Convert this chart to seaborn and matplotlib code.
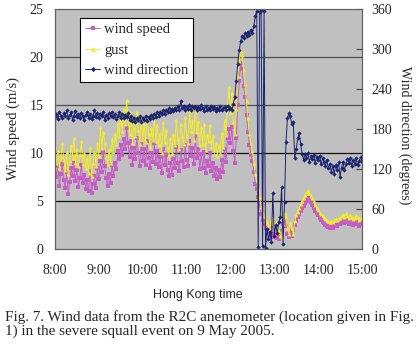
import numpy as np
import matplotlib
matplotlib.use("Agg")
import matplotlib.pyplot as plt
import seaborn as sns

# minutes after 08:00, one reading every 2 minutes up to 15:00
minutes = np.arange(0, 421, 2)
hours = 8 + minutes / 60

# wind speed (m/s)
wind_speed = [
    9.0, 7.5, 8.6, 6.6, 7.8, 8.9, 7.2, 6.4, 8.0, 5.7,
    7.0, 8.4, 7.6, 9.0, 7.1, 8.2, 6.5, 7.4, 8.8, 6.9,
    7.7, 6.3, 7.2, 6.0, 8.1, 5.8, 6.8, 7.6, 6.4, 8.4,
    7.3, 9.2, 8.0, 10.1, 8.6, 7.4, 6.6, 7.8, 6.9, 8.7,
    7.6, 9.0, 8.3, 10.2, 9.4, 10.8, 9.8, 11.5, 10.4, 12.6,
    11.0, 9.6, 11.3, 8.8, 10.5, 9.4, 11.6, 10.0, 8.6, 10.9,
    9.2, 10.4, 8.7, 11.2, 9.5, 8.4, 10.0, 9.1, 11.0, 8.9,
    10.2, 8.5, 9.6, 7.9, 10.4, 8.8, 9.8, 8.2, 7.6, 9.0,
    7.7, 9.4, 8.4, 10.6, 9.0, 8.1, 10.3, 9.2, 8.5, 10.8,
    9.3, 8.6, 11.2, 9.7, 10.5, 8.9, 11.8, 9.5, 10.4, 8.3,
    9.9, 8.4, 10.1, 7.9, 9.2, 8.6, 10.0, 8.1, 9.0, 7.6,
    8.4, 7.3, 8.2, 7.5, 9.3, 8.0, 10.4, 9.1, 11.6, 12.5,
    11.0, 12.7, 10.2, 9.0, 11.6, 15.0, 17.5, 19.4, 18.8, 17.0,
    15.8, 14.0, 12.2, 10.8, 9.8, 9.2, 8.0, 6.8, 6.2, 5.4,
    4.6, 3.6, 3.0, 2.6, 2.2, 2.0, 1.7, 1.4, 2.2, 1.6,
    1.2, 1.5, 1.1, 1.0, 1.3, 1.9, 2.6, 3.0, 2.4, 1.6,
    1.3, 1.9, 1.4, 2.0, 2.5, 2.9, 3.3, 3.6, 4.0, 4.3,
    4.5, 4.8, 5.1, 5.3, 5.0, 4.9, 4.6, 4.3, 4.0, 3.7,
    3.5, 3.2, 3.0, 2.8, 2.7, 2.5, 2.4, 2.3, 2.2, 2.3,
    2.2, 2.4, 2.5, 2.4, 2.6, 2.6, 2.8, 2.9, 2.7, 3.0,
    2.8, 2.6, 2.8, 2.7, 2.5, 2.6, 2.8, 2.6, 2.4, 2.6,
    2.7,
]

# gust (m/s)
gust = [
    10.6, 9.0, 10.2, 8.4, 9.6, 11.0, 9.3, 8.2, 10.1, 7.8,
    9.2, 10.8, 9.5, 11.6, 9.0, 10.4, 8.6, 9.8, 11.2, 8.9,
    10.0, 8.4, 9.5, 7.9, 10.6, 7.6, 9.0, 10.1, 8.6, 11.0,
    9.7, 12.7, 10.5, 12.2, 11.0, 9.6, 8.9, 10.4, 9.0, 11.5,
    10.1, 12.0, 10.9, 13.1, 11.8, 14.0, 12.3, 14.6, 13.0, 15.5,
    13.4, 12.0, 14.2, 11.0, 13.2, 11.8, 14.3, 12.4, 10.9, 13.6,
    11.5, 13.0, 11.1, 14.0, 12.0, 10.6, 12.6, 11.4, 13.8, 11.2,
    12.9, 10.8, 12.1, 10.0, 13.2, 11.1, 12.4, 10.5, 9.8, 11.6,
    10.0, 12.0, 10.8, 13.4, 11.5, 10.4, 13.0, 11.8, 10.9, 13.7,
    11.9, 11.0, 14.4, 12.3, 13.4, 11.4, 15.0, 12.2, 13.3, 10.8,
    12.7, 10.9, 13.0, 10.3, 11.9, 11.2, 12.9, 10.6, 11.8, 9.9,
    11.0, 9.7, 10.8, 10.0, 12.1, 10.6, 13.4, 11.9, 15.0, 16.9,
    14.2, 16.2, 13.3, 12.0, 14.6, 18.0, 19.6, 20.6, 20.2, 18.6,
    17.2, 15.4, 13.6, 12.0, 11.0, 10.2, 9.0, 7.8, 7.1, 6.3,
    5.4, 4.4, 3.8, 3.4, 3.0, 2.8, 2.5, 2.2, 3.0, 3.3,
    2.8, 2.5, 2.3, 1.9, 1.4, 1.2, 2.6, 3.7, 3.3, 2.2,
    1.6, 2.8, 2.2, 1.6, 2.9, 3.5, 3.9, 4.3, 4.7, 5.0,
    5.3, 5.6, 5.9, 6.1, 5.8, 5.6, 5.3, 5.0, 4.6, 4.3,
    4.1, 3.8, 3.6, 3.5, 3.3, 3.1, 3.0, 2.9, 2.8, 2.9,
    2.8, 3.0, 3.1, 3.0, 3.2, 3.2, 3.4, 3.6, 3.3, 3.7,
    3.4, 3.2, 3.5, 3.3, 3.1, 3.2, 3.5, 3.3, 3.0, 3.2,
    3.3,
]

# wind direction (degrees)
wind_dir = [
    198, 203, 195, 206, 200, 197, 204, 199, 208, 196,
    201, 205, 194, 200, 207, 198, 202, 196, 204, 199,
    193, 201, 206, 197, 203, 195, 200, 208, 198, 204,
    196, 203, 199, 205, 194, 201, 197, 204, 200, 206,
    198, 202, 195, 199, 205, 197, 203, 196, 201, 198,
    204, 194, 199, 192, 197, 190, 196, 193, 199, 191,
    197, 194, 200, 192, 198, 195, 201, 196, 203, 198,
    205, 200, 206, 202, 208, 203, 209, 205, 211, 206,
    210, 207, 212, 208, 214, 209, 222, 211, 215, 208,
    213, 210, 216, 209, 214, 211, 215, 208, 213, 210,
    216, 211, 207, 214, 209, 212, 208, 215, 210, 213,
    207, 212, 209, 214, 208, 211, 213, 209, 215, 210,
    212, 208, 218, 228, 252, 278, 298, 312, 320, 316,
    324, 319, 326, 321, 329, 324, 334, 350, 357, 3,
    356, 359, 4, 357, 2, 30, 15, 26, 10, 84,
    20, 36, 24, 40, 48, 93, 8, 70, 160, 196,
    204, 199, 187, 190, 136, 150, 166, 174, 158, 143,
    134, 142, 137, 144, 131, 139, 135, 141, 129, 138,
    133, 140, 127, 136, 131, 125, 133, 121, 128, 116,
    124, 113, 126, 119, 130, 108, 122, 131, 118, 127,
    135, 129, 137, 124, 133, 128, 136, 126, 132, 138,
    130,
]

assert len(wind_speed) == len(gust) == len(wind_dir) == len(minutes)

tick_hours = [8, 9, 10, 11, 12, 13, 14, 15]
tick_labels = ['8:00', '9:00', '10:00', '11:00', '12:00', '13:00', '14:00', '15:00']

sns.set_style("white")
plt.rcParams['font.family'] = ['Liberation Serif', 'DejaVu Serif']

fig = plt.figure(figsize=(4.19, 3.54), dpi=100)
ax = fig.add_axes([55 / 419, 1 - 249 / 354, 307 / 419, 240 / 354])
ax.set_facecolor('#c0c0c0')

# horizontal grid lines (two darker, two lighter as in the scan)
for lvl, col in [(5, '#101010'), (10, '#101010'), (15, '#505050'), (20, '#505050')]:
    ax.axhline(lvl, color=col, lw=0.9, zorder=0.5)

sns.lineplot(x=hours, y=wind_speed, ax=ax, estimator=None, sort=False,
             color='#c45ec4', lw=0.7, marker='s', markersize=2.6,
             markeredgewidth=0, label='wind speed', legend=False)
sns.lineplot(x=hours, y=gust, ax=ax, estimator=None, sort=False,
             color='#f2ea2e', lw=0.7, marker='^', markersize=2.8,
             markeredgewidth=0, label='gust', legend=False)

ax2 = ax.twinx()
sns.lineplot(x=hours, y=wind_dir, ax=ax2, estimator=None, sort=False,
             color='#1c2470', lw=0.7, marker='D', markersize=2.2,
             markeredgewidth=0, label='wind direction', legend=False)

ax.set_xlim(8, 15)
ax.set_ylim(0, 25)
ax2.set_ylim(0, 360)
ax.set_xticks(tick_hours)
ax.set_xticklabels(tick_labels)
ax.set_yticks([0, 5, 10, 15, 20, 25])
ax2.set_yticks([0, 60, 120, 180, 240, 300, 360])

ax.tick_params(axis='x', direction='in', length=3, pad=11, labelsize=10, color='#404040')
ax.tick_params(axis='y', direction='in', length=0, pad=8.5, labelsize=10)
ax2.tick_params(axis='y', direction='in', length=4, pad=7, labelsize=10, color='#404040')

for a in (ax, ax2):
    for s in a.spines.values():
        s.set_color('#606060')
        s.set_linewidth(0.8)

ax.set_xlabel('')
ax.set_ylabel('Wind speed (m/s)', fontsize=10.5, va='center')
ax.yaxis.set_label_coords(-0.137, 0.5)
ax2.set_ylabel('Wind direction (degrees)', fontsize=10, rotation=270, va='center')
ax2.yaxis.set_label_coords(1.14, 0.475)

fig.text(198 / 419, 1 - 298 / 354, 'Hong Kong time', ha='center', va='baseline',
         fontsize=9, family=['Liberation Sans', 'DejaVu Sans'])

handles = ax.get_lines()[4:] + ax2.get_lines()
handles = [h for h in handles if h.get_label() in ('wind speed', 'gust', 'wind direction')]
leg = ax2.legend(handles=handles, loc='upper left',
                 bbox_to_anchor=(80 / 419, 1 - 18 / 354), bbox_transform=fig.transFigure,
                 borderaxespad=0, fontsize=10.5, frameon=True, fancybox=False,
                 edgecolor='black', framealpha=1, handlelength=1.05,
                 handletextpad=0.25, borderpad=0.35, labelspacing=0.5, markerscale=1.2)
leg.get_frame().set_linewidth(0.8)

fig.text(5 / 419, 1 - 321 / 354,
         'Fig. 7. Wind data from the R2C anemometer (location given in Fig.',
         ha='left', va='baseline', fontsize=10.9)
fig.text(5 / 419, 1 - 334.5 / 354,
         '1) in the severe squall event on 9 May 2005.',
         ha='left', va='baseline', fontsize=10.9)

fig.savefig('out.png', dpi=100)
